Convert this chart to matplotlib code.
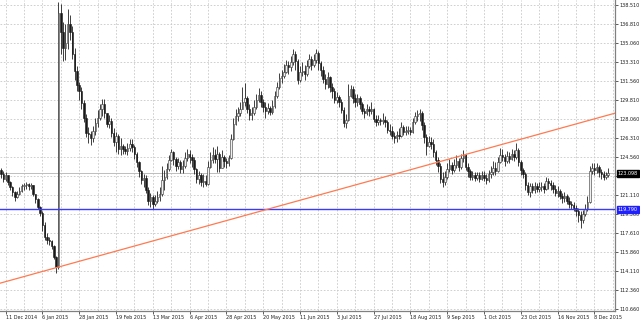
import matplotlib
matplotlib.use("Agg")
import matplotlib.pyplot as plt
import numpy as np

# ---------------- data ----------------
closes = [123.0,122.6,122.9,122.3,121.8,121.4,120.9,121.2,121.5,121.9,
          122.0,122.1,121.9,122.0,121.2,120.7,120.0,119.5,118.4,117.3,
          117.0,116.9,116.4,115.4,114.5,137.8,136.0,134.6,135.0,136.8,
          136.0,134.0,132.5,131.2,130.6,129.5,128.2,126.8,126.7,126.3,
          127.0,127.7,128.2,129.0,129.4,128.6,127.6,127.9,126.8,126.0,
          126.5,125.3,125.6,125.3,125.1,125.4,125.8,125.5,124.9,124.1,
          123.3,122.5,122.7,121.6,120.6,120.9,120.3,120.6,120.9,121.2,
          122.5,122.8,123.5,124.3,125.0,124.4,123.8,124.1,123.5,123.8,
          124.5,124.9,124.6,124.3,123.5,122.6,122.9,122.3,122.4,122.1,
          123.7,124.3,124.8,124.4,124.9,123.6,124.6,124.2,124.0,124.5,
          126.2,127.6,128.3,128.6,129.0,129.6,130.0,129.0,128.4,128.6,
          129.2,129.8,130.3,129.6,129.2,128.8,129.1,128.7,129.3,130.2,
          131.0,131.8,132.0,132.4,133.0,132.8,133.3,134.0,133.4,131.6,
          132.4,132.5,132.2,132.9,133.6,133.0,133.5,134.1,133.2,132.6,
          131.7,131.3,131.9,131.0,130.6,129.8,130.1,129.6,128.9,127.7,
          128.0,130.2,130.8,130.0,129.6,130.0,129.4,128.8,128.6,129.0,
          128.8,129.0,128.1,127.8,128.0,127.9,128.0,127.8,127.1,127.0,
          126.5,126.3,126.6,126.5,127.3,126.9,127.0,127.1,126.9,127.8,
          128.3,128.5,128.6,127.5,126.4,125.6,126.0,125.8,125.0,124.3,
          123.8,122.6,122.3,122.8,123.5,123.9,123.4,123.9,124.2,123.7,
          124.5,124.8,123.7,123.3,122.8,122.9,122.7,122.9,122.6,122.9,
          122.7,122.5,123.0,123.2,123.6,123.3,124.1,124.8,124.6,124.2,
          124.7,124.4,124.9,124.6,125.2,124.1,123.4,123.0,122.0,121.4,
          121.9,121.6,121.9,121.7,121.8,121.9,121.7,122.4,122.2,122.0,
          121.7,121.3,121.5,121.0,120.8,121.0,120.6,120.3,120.2,119.9,
          119.6,119.3,118.8,119.4,119.8,120.5,123.3,123.6,123.4,123.7,
          123.2,123.0,122.8,122.9,123.1]

highs = [123.6,123.3,123.2,122.9,122.4,121.9,121.5,121.5,121.8,122.1,
         122.2,122.3,122.2,122.2,122.0,121.2,120.8,120.1,119.6,118.6,
         117.6,117.3,117.0,116.5,115.5,138.8,138.6,137.0,136.8,138.1,
         137.6,136.6,134.6,132.9,131.5,131.0,129.8,128.5,127.3,127.0,
         127.4,128.2,128.9,129.4,129.9,129.9,128.5,128.4,128.2,127.2,
         126.9,126.7,126.3,125.8,125.6,125.9,126.2,126.2,125.7,125.0,
         124.2,123.4,123.0,122.9,121.8,121.3,121.1,121.1,121.5,121.8,
         123.8,123.4,124.0,124.8,125.3,125.1,124.6,124.5,124.3,124.3,
         125.0,125.3,125.2,124.9,124.6,123.6,123.3,123.1,123.0,122.9,
         124.2,125.0,125.5,125.3,125.6,125.0,125.2,124.8,124.5,124.8,
         126.7,128.2,129.0,129.2,129.6,131.0,131.4,130.2,129.4,129.2,
         129.8,130.4,130.9,130.6,129.9,129.6,129.5,129.3,129.8,130.6,
         131.5,132.3,132.6,133.1,133.5,133.4,133.8,134.5,134.3,133.6,
         132.9,133.3,133.0,133.5,134.0,133.8,134.0,134.5,134.3,133.4,
         132.9,132.2,132.4,132.0,131.4,130.9,130.5,130.3,129.9,129.2,
         128.5,131.3,131.2,131.1,130.4,130.4,130.2,129.6,129.1,129.4,
         129.3,129.6,129.1,128.4,128.4,128.2,128.6,128.3,128.0,127.6,
         127.4,126.9,127.0,127.2,127.8,127.5,127.4,127.4,127.3,128.2,
         128.7,128.9,129.0,128.8,127.8,126.7,126.5,126.4,126.2,125.2,
         124.6,124.0,123.2,123.3,124.0,124.4,124.1,124.4,124.8,124.5,
         124.9,125.2,124.9,124.0,123.5,123.3,123.2,123.2,123.2,123.3,
         123.3,123.0,123.4,123.8,124.2,124.1,124.6,125.4,125.3,124.9,
         125.1,125.0,125.3,125.2,125.9,125.4,124.3,123.6,123.2,122.3,
         122.2,122.2,122.3,122.2,122.3,122.3,122.2,122.8,122.7,122.5,
         122.3,122.0,121.9,121.7,121.3,121.4,121.2,120.9,120.6,120.5,
         120.2,119.9,119.6,119.7,120.3,121.0,123.8,124.0,124.0,124.0,
         123.9,123.5,123.3,123.2,123.6]

lows = [122.7,122.3,122.4,122.0,121.6,121.0,120.6,120.8,121.1,121.4,
        121.6,121.7,121.6,121.7,121.0,120.4,119.8,119.2,117.8,117.0,
        116.6,116.5,116.2,115.2,114.0,114.3,134.0,133.4,133.5,134.5,
        135.3,133.6,131.6,130.6,129.8,129.0,127.8,126.4,125.9,125.7,
        126.0,126.6,127.3,128.0,128.3,128.2,127.3,127.2,126.4,125.6,
        125.0,124.9,124.8,124.9,124.9,124.8,125.1,125.0,124.4,123.7,
        122.8,122.1,121.8,121.3,120.2,120.0,119.8,120.1,120.4,120.6,
        121.0,121.6,122.6,123.3,124.2,123.9,123.3,123.5,123.1,123.1,
        123.6,124.2,124.0,123.7,123.0,122.2,122.1,121.9,121.8,121.9,
        122.0,123.6,124.0,124.0,123.2,123.2,123.8,123.7,123.6,123.8,
        124.4,126.1,127.5,127.9,128.3,129.0,129.3,128.6,128.0,128.0,
        128.4,129.0,129.6,129.2,128.7,128.2,128.5,128.4,128.5,129.1,
        130.0,130.8,131.4,131.8,132.3,132.2,132.5,133.0,132.6,131.3,
        131.5,132.0,131.6,132.0,132.7,132.6,132.8,133.2,132.6,132.0,
        131.4,130.8,130.9,130.5,130.0,129.5,129.5,129.2,128.6,127.3,
        127.2,127.9,130.1,129.5,129.2,129.3,129.0,128.5,128.2,128.4,
        128.3,128.5,127.8,127.4,127.5,127.5,127.6,127.3,126.8,126.6,
        126.2,125.9,126.0,126.2,126.4,126.6,126.6,126.7,126.6,126.8,
        127.6,127.9,127.9,127.1,125.9,124.8,125.5,125.3,124.6,123.9,
        123.2,122.2,121.8,122.0,122.6,123.2,123.0,123.2,123.6,123.3,
        123.5,124.1,123.4,122.8,122.5,122.5,122.4,122.5,122.3,122.5,
        122.4,122.1,122.3,122.7,122.9,122.9,123.2,124.0,124.2,123.8,
        124.0,124.0,124.3,124.2,124.4,123.8,122.9,122.7,121.6,121.1,
        120.9,121.3,121.3,121.4,121.4,121.5,121.3,121.6,121.7,121.6,
        121.3,121.0,120.9,120.7,120.4,120.5,120.3,119.9,119.8,119.6,
        119.2,118.6,118.1,118.5,119.2,119.6,120.4,123.0,122.9,123.1,
        122.8,122.6,122.5,122.6,122.8]

first_open = 123.4

date_labels = ["11 Dec 2014", "6 Jan 2015", "28 Jan 2015", "19 Feb 2015",
               "13 Mar 2015", "6 Apr 2015", "28 Apr 2015", "20 May 2015",
               "11 Jun 2015", "3 Jul 2015", "27 Jul 2015", "18 Aug 2015",
               "9 Sep 2015", "1 Oct 2015", "23 Oct 2015", "16 Nov 2015",
               "8 Dec 2015"]
date_label_bars = [2 + 16 * k for k in range(len(date_labels))]

price_ticks = [138.510, 136.810, 135.060, 133.310, 131.560, 129.810, 128.060,
               126.310, 124.560, 122.810, 121.110, 119.360, 117.610, 115.860,
               114.110, 112.360, 110.660]

hline_level = 119.790
current_price = 123.098
trend_p1 = (24, 114.45)
trend_p2 = (224, 126.10)

# ---------------- plot ----------------
n = len(closes)
opens = [first_open] + closes[:-1]
xs = np.arange(n)

W, H = 640, 321
FS = 3.5
fig = plt.figure(figsize=(W / 100, H / 100), dpi=100)
fig.patch.set_facecolor("white")
ax = fig.add_axes([0, 10 / H, 615 / W, 1 - 10 / H])
ax.set_facecolor("white")

xlo, xhi = -0.43, 266.96
ylo, yhi = 110.48, 138.97
ax.set_xlim(xlo, xhi)
ax.set_ylim(ylo, yhi)

# grid
grid_kw = dict(color="#c8c8c8", lw=0.6, ls=(0, (2, 2)), zorder=0)
for p in price_ticks:
    ax.axhline(p, **grid_kw)
for b in range(2, n + 3, 8):
    ax.axvline(b, **grid_kw)

# current price line
ax.axhline(current_price, color="#bdbdbd", lw=0.7, zorder=1)

# candles
o = np.array(opens); c = np.array(closes)
h = np.maximum(np.array(highs), np.maximum(o, c))
l = np.minimum(np.array(lows), np.minimum(o, c))
ax.vlines(xs, l, h, color="#202020", lw=0.6, zorder=3)
bull = c >= o
bottoms = np.minimum(o, c)
heights = np.maximum(np.abs(c - o), 0.06)
ax.bar(xs[bull], heights[bull], bottom=bottoms[bull], width=0.65,
       facecolor="#f0f0f0", edgecolor="#303030", lw=0.4, zorder=4)
ax.bar(xs[~bull], heights[~bull], bottom=bottoms[~bull], width=0.65,
       facecolor="#181818", edgecolor="#181818", lw=0.4, zorder=4)

# horizontal level line
ax.axhline(hline_level, color="#3a3aff", lw=1.0, zorder=5)

# trend line
ax.axline(trend_p1, trend_p2, color="#ff7a50", lw=0.9, zorder=5)

# spines
for s in ["top", "left"]:
    ax.spines[s].set_visible(False)
ax.spines["right"].set_color("#808080")
ax.spines["bottom"].set_color("#808080")
ax.spines["right"].set_linewidth(0.9)
ax.spines["bottom"].set_linewidth(0.9)

# y ticks on right
ax.yaxis.tick_right()
ax.set_yticks(price_ticks)
ax.set_yticklabels([f"{p:.3f}" for p in price_ticks], fontsize=FS,
                   family="DejaVu Sans")
ax.tick_params(axis="y", length=2, width=0.6, pad=1.2, colors="#404040")

# x ticks
ax.set_xticks(date_label_bars)
ax.set_xticklabels(date_labels, fontsize=FS, ha="left")
ax.tick_params(axis="x", length=2, width=0.6, pad=1.0, colors="#404040")
for lab in ax.get_xticklabels() + ax.get_yticklabels():
    lab.set_color("#202020")

# price boxes on the right
def price_box(val, fc):
    ax.annotate(f"{val:.3f}", xy=(1, val), xycoords=("axes fraction", "data"),
                xytext=(2.0, 0), textcoords="offset points",
                ha="left", va="center", fontsize=FS, color="white",
                bbox=dict(boxstyle="square,pad=0.2", fc=fc, ec=fc),
                annotation_clip=False, zorder=10)

price_box(current_price, "black")
price_box(hline_level, "#2020ff")

fig.savefig("out.png", dpi=100, facecolor="white")
